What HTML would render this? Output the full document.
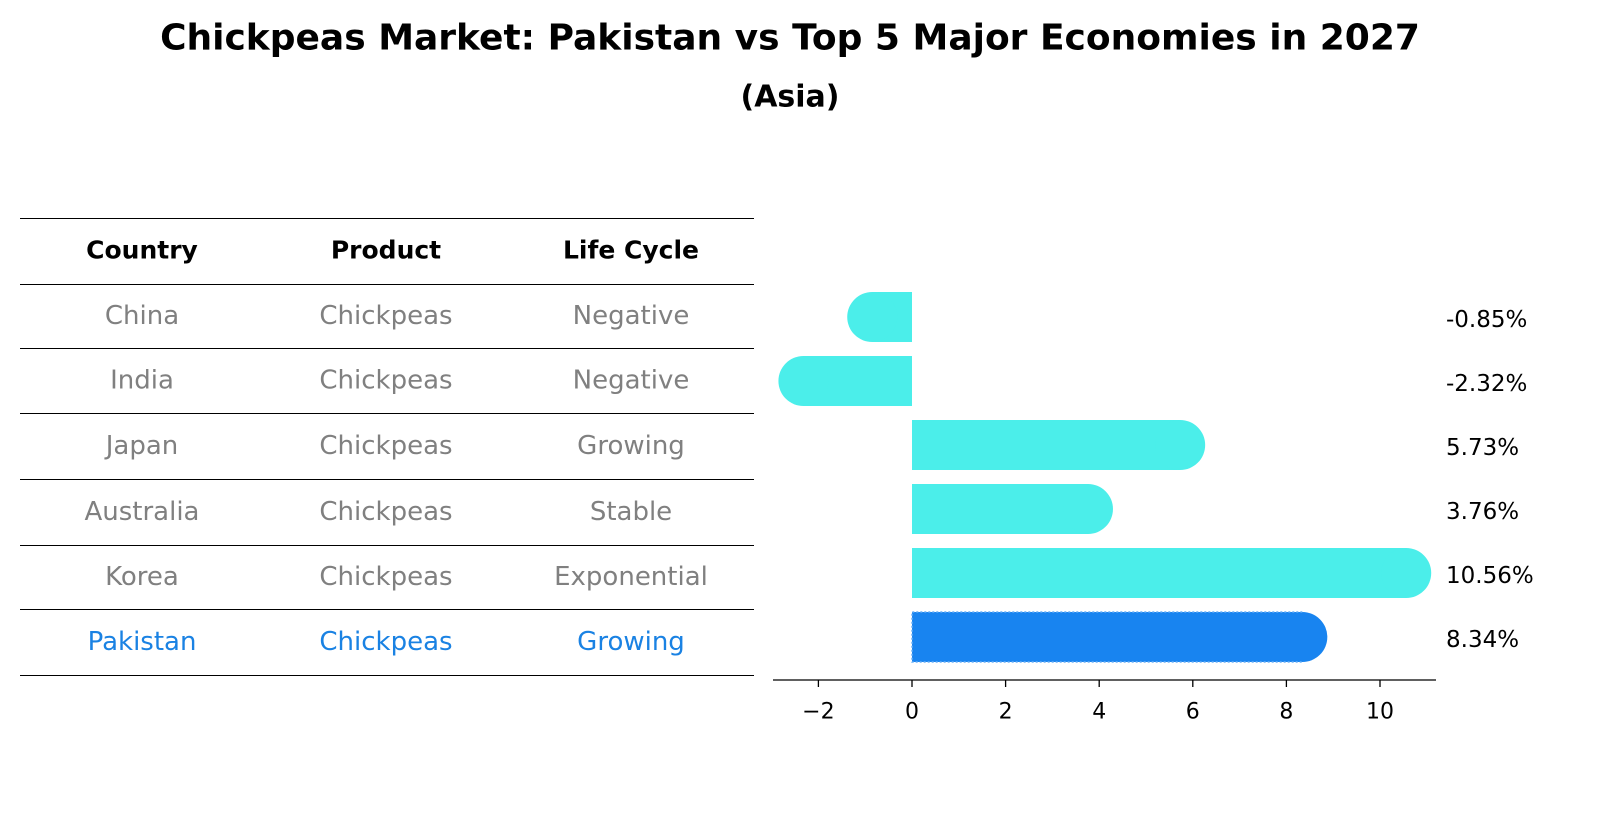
<!DOCTYPE html>
<html><head><meta charset="utf-8"><style>
body{margin:0;background:#fff;font-family:"DejaVu Sans","Liberation Sans",sans-serif;}
#root{position:relative;width:1604px;height:823px;overflow:hidden;}
</style></head><body>
<div id="root">
<svg id="svg" width="1604" height="823" xmlns="http://www.w3.org/2000/svg">
<text x="790" y="38" text-anchor="middle" dominant-baseline="central" font-size="36" font-weight="bold" font-family="DejaVu Sans, Liberation Sans, sans-serif">Chickpeas Market: Pakistan vs Top 5 Major Economies in 2027</text>
<text x="790" y="97" text-anchor="middle" dominant-baseline="central" font-size="30" font-weight="bold" font-family="DejaVu Sans, Liberation Sans, sans-serif">(Asia)</text>
<g id="table"></g>
<g id="bars"></g>
</svg>
</div>
<script>
const countries=["China","India","Japan","Australia","Korea","Pakistan"];
const products=["Chickpeas","Chickpeas","Chickpeas","Chickpeas","Chickpeas","Chickpeas"];
const lifeCycles=["Negative","Negative","Growing","Stable","Exponential","Growing"];
const growthValues=[-0.85,-2.32,5.73,3.76,10.56,8.34];
const xTicks=[-2,0,2,4,6,8,10];

const NS="http://www.w3.org/2000/svg";
const FONT="DejaVu Sans, Liberation Sans, sans-serif";
function mk(tag,attrs,parent){const e=document.createElementNS(NS,tag);for(const k in attrs)e.setAttribute(k,attrs[k]);parent.appendChild(e);return e;}
const table=document.getElementById('table');
const bars=document.getElementById('bars');
const colX=[142,386,631];
const rowLines=[218,284,348,413,479,545,609,675];
rowLines.forEach((y,i)=>{
  const l=mk('line',{x1:20,x2:754,y1:y+0.5,y2:y+0.5,stroke:'#000','stroke-width':1},table);
  
  
});
["Country","Product","Life Cycle"].forEach((h,i)=>{
  const t=mk('text',{x:colX[i],y:250,'text-anchor':'middle','dominant-baseline':'central','font-size':25,'font-weight':'bold','font-family':FONT},table);
  t.textContent=h;
  
  
});
countries.forEach((c,i)=>{
  const y=(rowLines[i+1]+rowLines[i+2])/2;
  const col=c==="Pakistan"?'#1a82e3':'#808080';
  [c,products[i],lifeCycles[i]].forEach((v,j)=>{
    const t=mk('text',{x:colX[j],y:y,'text-anchor':'middle','dominant-baseline':'central','font-size':26,fill:col,'font-family':FONT},table);
    t.textContent=v;
    
    
  });
});
const x0=912,unit=46.8;
const xs=v=>x0+v*unit;
const rowTop=292,step=64,bh=50,r=25;
const ax=mk('line',{x1:773,x2:1436,y1:680,y2:680,stroke:'#000','stroke-width':1.3},bars);


xTicks.forEach(v=>{
  const tk=mk('line',{x1:xs(v),x2:xs(v),y1:680,y2:687,stroke:'#000','stroke-width':1.3},bars);
  
  
  const t=mk('text',{x:xs(v),y:712,'text-anchor':'middle','dominant-baseline':'central','font-size':22,'font-family':FONT},bars);
  t.textContent=v<0?'\u2212'+Math.abs(v):String(v);
  
  
});
growthValues.forEach((v,i)=>{
  const top=rowTop+i*step, cy=top+bh/2;
  const isP=countries[i]==="Pakistan";
  const col=isP?'#1884f0':'#4beeea';
  const xe=xs(v);
  const left=Math.min(x0,xe), w=Math.abs(xe-x0);
  const g=mk('g',{},bars);
  
  
  mk('rect',{x:left,y:top,width:w,height:bh,fill:col},g);
  mk('circle',{cx:xe,cy:cy,r:r,fill:col},g);
  if(isP){mk('path',{d:`M${xe},${top}H${x0}V${top+bh}H${xe}`,fill:'none',stroke:'#6bb0f5','stroke-width':1.5,'stroke-dasharray':'2,2'},g);}
  const t=mk('text',{x:1446,y:cy+3,'dominant-baseline':'central','font-size':23,'font-family':FONT},bars);
  t.textContent=v.toFixed(2)+'%';
  
  
});
</script>
</body></html>
